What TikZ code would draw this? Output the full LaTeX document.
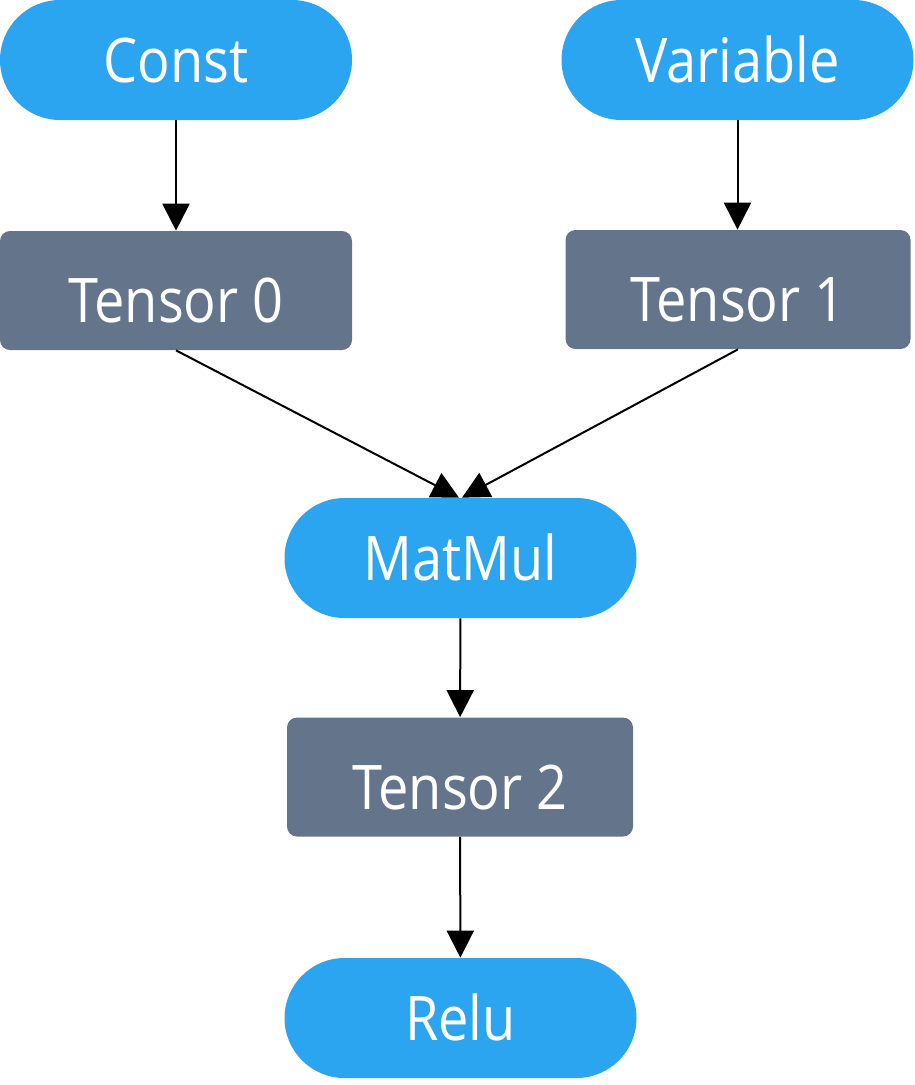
\documentclass[tikz,border=0pt]{standalone}
\usepackage{fontspec}
\setmainfont[FakeStretch=0.88]{Open Sans}
\usetikzlibrary{arrows.meta}
\definecolor{OpBlue}{RGB}{44,165,240}
\definecolor{TensorSlate}{RGB}{100,116,139}

\begin{document}
\begin{tikzpicture}[
    op/.style={fill=OpBlue, rounded corners=1.2cm, minimum width=7.04cm, minimum height=2.4cm, inner sep=0pt, text=white, text height=0.88cm, text depth=0pt, font=\fontsize{35}{40}\selectfont},
    tensor/.style={fill=TensorSlate, rounded corners=0.2cm, minimum width=7.04cm, minimum height=2.38cm, inner sep=0pt, text=white, text height=1.28cm, text depth=0pt, font=\fontsize{35}{40}\selectfont},
    arr/.style={line width=0.04cm, -{Triangle[width=0.54cm, length=0.54cm]}}
  ]
    \useasboundingbox (0,0) rectangle (18.3,-21.7);

    % Eingaenge
    \node[op] (const) at (3.52,-1.2) {Const};
    \node[op] (variable) at (14.75,-1.2) {Variable};
    \node[tensor] (t0) at (3.52,-5.81) {Tensor 0};
    \node[tensor, minimum width=6.9cm] (t1) at (14.76,-5.79) {Tensor 1};

    % Operationen
    \node[op] (matmul) at (9.21,-11.16) {MatMul};
    \node[tensor, minimum width=6.92cm] (t2) at (9.2,-15.54) {Tensor 2};
    \node[op] (relu) at (9.21,-20.36) {Relu};

    % Kanten
    \draw[arr] (const) -- (t0);
    \draw[arr] (variable) -- (t1.north -| variable);
    \draw[arr] (t0.south) -- ([xshift=-0.03cm]matmul.north);
    \draw[arr] (t1.south) -- ([xshift=0.03cm]matmul.north);
    \draw[arr] (matmul) -- (t2);
    \draw[arr] (t2) -- (relu);
  \end{tikzpicture}
\end{document}
